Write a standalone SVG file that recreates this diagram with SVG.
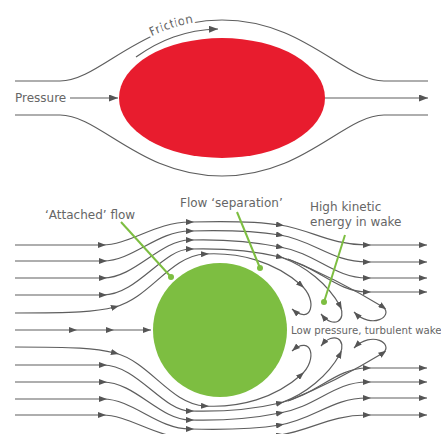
<svg xmlns="http://www.w3.org/2000/svg" width="441" height="434" viewBox="0 0 441 434">
  <style>
    .flow { fill: none; stroke: #5e5e5e; stroke-width: 1.2; }
    .arrowed { marker-mid: url(#mid); marker-end: url(#tip); }
    .label { font-family: "DejaVu Sans", Verdana, sans-serif; fill: #666; }
    .pointer { stroke: #7dbe41; stroke-width: 2; fill: none; }
    .dot { fill: #7dbe41; }
  </style>
  <defs>
    <!-- arrowhead centred on a vertex (mid-line) -->
    <marker id="mid" viewBox="0 0 8 6" refX="4" refY="3" markerWidth="8" markerHeight="6" markerUnits="userSpaceOnUse" orient="auto">
      <path d="M0,0 L8,3 L0,6 z" fill="#555"/>
    </marker>
    <!-- arrowhead with its tip on the end of a line -->
    <marker id="tip" viewBox="0 0 8 6" refX="8" refY="3" markerWidth="8" markerHeight="6" markerUnits="userSpaceOnUse" orient="auto">
      <path d="M0,0 L8,3 L0,6 z" fill="#555"/>
    </marker>
    <marker id="tipBig" viewBox="0 0 9 7" refX="9" refY="3.5" markerWidth="9" markerHeight="7" markerUnits="userSpaceOnUse" orient="auto">
      <path d="M0,0 L9,3.5 L0,7 z" fill="#555"/>
    </marker>
  </defs>

  <rect width="441" height="434" fill="#fff"/>

  <!-- ===== Streamlined body ===== -->
  <g id="streamlined-body">
    <ellipse cx="222" cy="98" rx="103" ry="60" fill="#e81c2e"/>
  </g>

  <g id="top-connectors">
    <path id="upperStream" class="flow" d="M15,81 L60,81 C100,81 140,20 222,20 C304,20 344,81 384,81 L428,81"/>
    <path class="flow" d="M15,115 L60,115 C100,115 140,176 222,176 C304,176 344,115 384,115 L428,115"/>
    <path class="flow" d="M70,98 H118" marker-end="url(#tipBig)"/>
    <path class="flow" d="M325,98 H428" marker-end="url(#tipBig)"/>
    <path class="flow" d="M136,57 C160,40 185,30 218,29" marker-end="url(#tipBig)"/>
  </g>

  <g id="top-labels">
    <text class="label" x="15" y="102" font-size="12">Pressure</text>
    <text class="label" font-size="12" stroke="#fff" stroke-width="5" stroke-linejoin="round" paint-order="stroke">
      <textPath href="#upperStream" startOffset="148">Friction</textPath>
    </text>
  </g>

  <!-- ===== Bluff body ===== -->
  <g id="bluff-body">
    <circle cx="220" cy="330" r="67" fill="#7dbe41"/>
  </g>

  <g id="wake-connectors">
    <!-- streamlines passing over the body -->
    <path class="flow arrowed" d="M15,245 H102 C130,245 155,222 190,222 C225,221 255,221 280,225 C312,230 330,245 367,245 H427"/>
    <path class="flow arrowed" d="M15,261 H103 C133,261 157,231 190,231 C226,230 255,231 280,235 C315,241 332,262 367,262 H427"/>
    <path class="flow arrowed" d="M15,278 H103 C135,278 160,240 190,240 C226,239 255,242 280,247 C316,253 334,278 367,278 H427"/>
    <path class="flow arrowed" d="M15,295 H103 C137,295 163,249 190,249 C226,248 255,251 280,257 C318,266 336,292 367,292 H427"/>
    <path class="flow arrowed" d="M15,313 C75,313 95,312 115,307 C150,298 170,256 205,254 C240,252 275,262 301,285 C318,300 312,326 292,309"/>
    <path class="flow arrowed" d="M283,258 C305,266 328,284 340,306 C347,320 334,330 321,314"/>
    <path class="flow arrowed" d="M288,259 C320,272 355,290 383,307 C394,316 372,330 354,312"/>

    <!-- stagnation streamline -->
    <path class="flow arrowed" d="M15,330 H73 H110 H151"/>

    <!-- streamlines passing under the body -->
    <path class="flow arrowed" d="M15,415 H102 C130,415 155,438 190,438 C225,439 255,439 280,435 C312,430 330,415 367,415 H427"/>
    <path class="flow arrowed" d="M15,399 H103 C133,399 157,429 190,429 C226,430 255,429 280,425 C315,419 332,398 367,398 H427"/>
    <path class="flow arrowed" d="M15,382 H103 C135,382 160,420 190,420 C226,421 255,418 280,413 C316,407 334,382 367,382 H427"/>
    <path class="flow arrowed" d="M15,365 H103 C137,365 163,411 190,411 C226,412 255,409 280,403 C318,394 336,368 367,368 H427"/>
    <path class="flow arrowed" d="M15,347 C75,347 95,348 115,353 C150,362 170,404 205,406 C240,408 275,398 301,375 C318,360 312,334 292,351"/>
    <path class="flow arrowed" d="M283,402 C305,394 328,376 340,354 C347,340 334,330 321,346"/>
    <path class="flow arrowed" d="M288,401 C320,388 355,370 383,353 C394,344 372,330 354,348"/>
  </g>

  <g id="label-attached">
    <text class="label" x="45" y="219" font-size="12">‘Attached’ flow</text>
    <line class="pointer" x1="121" y1="222" x2="171" y2="277"/>
    <circle class="dot" cx="171" cy="277" r="3"/>
  </g>

  <g id="label-separation">
    <text class="label" x="180" y="207" font-size="12">Flow ‘separation’</text>
    <line class="pointer" x1="237" y1="212" x2="260" y2="268"/>
    <circle class="dot" cx="260" cy="268" r="3"/>
  </g>

  <g id="label-kinetic">
    <text class="label" x="310" y="211" font-size="12">High kinetic</text>
    <text class="label" x="310" y="226" font-size="12">energy in wake</text>
    <line class="pointer" x1="345" y1="235" x2="324" y2="302"/>
    <circle class="dot" cx="324" cy="302" r="3"/>
  </g>

  <g id="label-wake">
    <text class="label" x="291" y="333.5" font-size="10.2">Low pressure, turbulent wake</text>
  </g>
</svg>
